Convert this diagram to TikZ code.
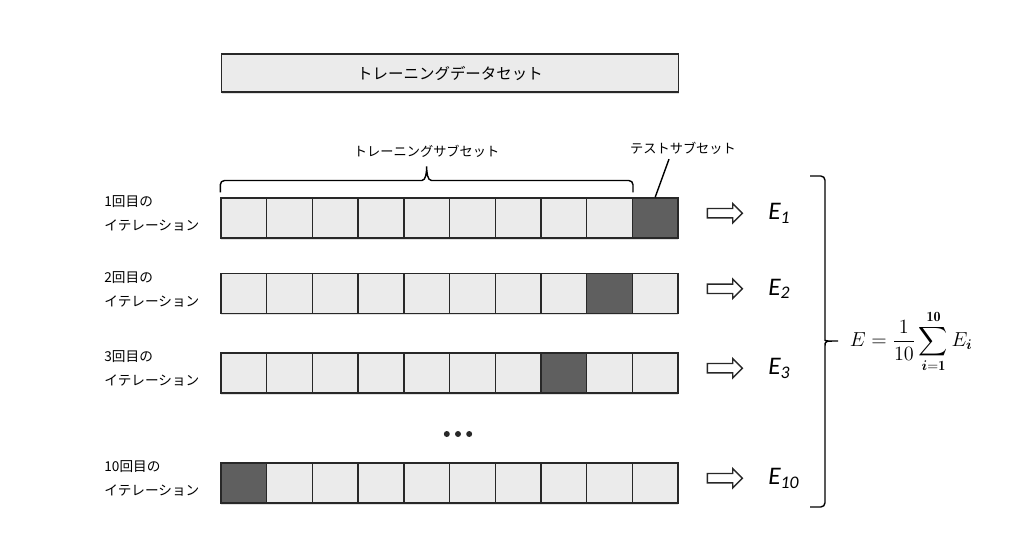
\documentclass[tikz,border=0pt]{standalone}
\usepackage{amsmath}
\usepackage{fontspec}
\newfontfamily\jp{Noto Sans CJK JP}
\newfontfamily\calib{Carlito}
\usetikzlibrary{positioning,calc,shapes.arrows,shadows}

\definecolor{cellgray}{RGB}{235,235,235}
\definecolor{testgray}{RGB}{95,95,95}
\definecolor{linegray}{RGB}{40,40,40}

\begin{document}
\begin{tikzpicture}[
    cell/.style={draw=linegray, line width=1pt, minimum width=1.1425cm, minimum height=1cm, inner sep=0pt,
      drop shadow={shadow xshift=0pt, shadow yshift=-1.2pt, opacity=0.25}},
    databox/.style={cell, fill=cellgray, minimum width=11.425cm, minimum height=0.95cm, font=\jp\fontsize{11}{13}\selectfont},
    iterlabel/.style={align=left, font=\jp\fontsize{9.7}{17}\selectfont},
    sublabel/.style={font=\jp\fontsize{9.4}{12}\selectfont},
    bigarrow/.style={draw=linegray, line width=1pt, single arrow, minimum height=0.875cm, minimum width=0.45cm,
      inner sep=0.1cm, single arrow head extend=0.125cm},
    errlabel/.style={font=\calib\itshape\fontsize{18}{20}\selectfont}
  ]
  \useasboundingbox (0,0) rectangle (25.8,13.3);

  \node[databox] (dataset) at (11.25,11.475) {トレーニングデータセット};

  % row number / height / place of the test subset
  \foreach \row/\ypos/\test in {1/7.85/10, 2/5.96/9, 3/3.975/8, 10/1.225/1} {
    \foreach \i in {1,...,10} {
      \ifnum\i=\test \def\cellcol{testgray}\else\def\cellcol{cellgray}\fi
      \node[cell, fill=\cellcol] (r\row c\i) at ({5.525+(\i-0.5)*1.1425},\ypos) {};
    }
    \node[iterlabel, left=0.4cm of r\row c1, yshift=3pt] (iter\row) {\row 回目の\\イテレーション};
    \node[bigarrow, right=0.7cm of r\row c10, yshift=0.12cm] (arr\row) {};
    \node[errlabel, right=0.5cm of arr\row] (err\row) {E\textsubscript{\row}};
  }

  \foreach \k in {-1,0,1}
    \fill[linegray] ({11.45+\k*0.28},2.45) circle (0.075);

  % brace over the training part
  \coordinate (trainL) at ([yshift=0.12cm]r1c1.north west);
  \coordinate (trainR) at ([yshift=0.12cm]r1c9.north east);
  \coordinate (trainT) at ($(trainL)!0.5!(trainR)+(0,0.65)$);
  \draw[line width=1pt] (trainL) [rounded corners=3pt] -- ++(0,0.3) [sharp corners] -- ($(trainT)+(-0.12,-0.35)$)
    .. controls +(0.1,0) and +(0,-0.15) .. (trainT)
    .. controls +(0,-0.15) and +(-0.1,0) .. ($(trainT)+(0.12,-0.35)$)
    [rounded corners=3pt] -- ($(trainR)+(0,0.3)$) -- (trainR);
  \node[sublabel, above=0.1cm of trainT] (trainsub) {トレーニングサブセット};

  \node[sublabel] (testsub) at (17.075,9.6) {テストサブセット};
  \draw[line width=1pt] ([xshift=-0.35cm]testsub.south) -- (r1c10.north);

  % brace collecting the errors
  \draw[line width=1pt] (20.25,8.9) [rounded corners=3pt] -- (20.625,8.9) -- (20.625,4.9) [sharp corners]
    .. controls (20.625,4.775) .. (20.95,4.775)
    .. controls (20.625,4.775) .. (20.625,4.65)
    [rounded corners=3pt] -- (20.625,0.625) -- (20.25,0.625);

  \node[font=\Large] (errsum) at (22.78,4.76)
    {$\displaystyle E=\frac{1}{10}\sum_{\boldsymbol{i}=\mathbf{1}}^{\mathbf{10}}E_{\boldsymbol{i}}$};
\end{tikzpicture}
\end{document}
